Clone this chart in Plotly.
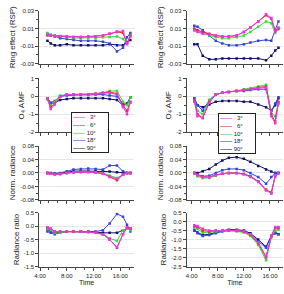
import plotly.graph_objects as go
from plotly.subplots import make_subplots

# ---------------- data ----------------
angles = ["3°", "6°", "10°", "18°", "90°"]
colors = ["#ee33ee", "#e52a2a", "#33dd33", "#3344dd", "#101070"]

time_left = [5.1, 5.6, 6.2, 7.0, 8.0, 9.0, 10.1, 11.2, 12.3, 13.4, 14.4, 15.5, 16.4, 17.0, 17.5]
time_right = [4.4, 4.9, 5.7, 6.7, 7.7, 8.7, 9.7, 10.9, 12.0, 13.0, 14.2, 15.4, 16.2, 16.8, 17.3]

# Ring effect (RSP)
ring_left = {
    "3°":  [0.003, 0.002, 0.0018, 0.0015, 0.0008, 0.0004, 0.0004, 0.0008, 0.001, 0.002, 0.004, 0.0065, 0.007, -0.008, 0.001],
    "6°":  [0.002, 0.0018, 0.0016, 0.0012, 0.0008, 0.0004, 0.0004, 0.0008, 0.001, 0.002, 0.004, 0.006, 0.005, -0.007, 0.002],
    "10°": [0.005, 0.003, 0.002, 0.001, 0.0, -0.0008, -0.0008, -0.0008, -0.0004, 0.0, 0.0004, 0.001, -0.002, -0.007, 0.002],
    "18°": [0.004, 0.0025, 0.001, -0.001, -0.002, -0.003, -0.004, -0.004, -0.004, -0.005, -0.007, -0.016, -0.012, 0.0, 0.005],
    "90°": [-0.004, -0.007, -0.009, -0.009, -0.008, -0.009, -0.009, -0.009, -0.009, -0.009, -0.008, -0.009, -0.009, -0.006, -0.003],
}
ring_right = {
    "3°":  [0.008, 0.006, 0.004, 0.003, 0.002, 0.001, 0.001, 0.002, 0.006, 0.011, 0.018, 0.026, 0.022, 0.006, 0.011],
    "6°":  [0.010, 0.008, 0.006, 0.004, 0.002, 0.001, 0.001, 0.002, 0.006, 0.011, 0.018, 0.025, 0.021, 0.008, 0.010],
    "10°": [0.008, 0.007, 0.005, 0.002, 0.0, -0.001, -0.001, 0.0, 0.002, 0.006, 0.012, 0.018, 0.016, 0.005, 0.009],
    "18°": [0.013, 0.012, 0.008, 0.002, -0.004, -0.007, -0.009, -0.009, -0.008, -0.006, -0.004, -0.003, -0.004, 0.008, 0.018],
    "90°": [-0.008, -0.008, -0.021, -0.025, -0.025, -0.024, -0.024, -0.024, -0.024, -0.024, -0.024, -0.026, -0.021, -0.015, -0.012],
}

# O4 AMF
amf_left = {
    "3°":  [-0.15, -0.7, -0.45, 0.0, 0.1, 0.1, 0.12, 0.12, 0.15, 0.18, 0.2, 0.1, -0.6, -1.0, -0.35],
    "6°":  [-0.15, -0.6, -0.4, 0.0, 0.1, 0.1, 0.12, 0.12, 0.15, 0.2, 0.25, 0.15, -0.5, -0.8, -0.3],
    "10°": [-0.1, -0.5, -0.3, 0.05, 0.1, 0.1, 0.12, 0.12, 0.15, 0.2, 0.3, 0.3, -0.3, -0.5, -0.05],
    "18°": [-0.1, -0.35, -0.25, 0.0, 0.05, 0.08, 0.08, 0.08, 0.1, 0.1, 0.05, 0.0, -0.4, -0.45, -0.05],
    "90°": [-0.1, -0.4, -0.35, -0.2, -0.15, -0.1, -0.1, -0.1, -0.1, -0.1, -0.15, -0.2, -0.5, -0.4, -0.05],
}
amf_right = {
    "3°":  [-0.3, -1.1, -1.2, -0.35, 0.1, 0.2, 0.25, 0.3, 0.35, 0.4, 0.45, 0.5, -1.1, -1.5, -0.4],
    "6°":  [-0.2, -1.0, -1.2, -0.3, 0.1, 0.2, 0.25, 0.3, 0.35, 0.4, 0.5, 0.55, -1.0, -1.4, -0.3],
    "10°": [-0.2, -0.8, -1.0, -0.2, 0.1, 0.2, 0.25, 0.3, 0.4, 0.45, 0.55, 0.65, -0.9, -1.1, -0.4],
    "18°": [-0.1, -0.5, -0.8, -0.2, 0.1, 0.2, 0.25, 0.3, 0.3, 0.35, 0.4, 0.4, -0.8, -0.4, -0.05],
    "90°": [-0.1, -0.5, -0.6, -0.45, -0.3, -0.25, -0.25, -0.25, -0.3, -0.3, -0.45, -0.6, -0.8, -0.5, -0.1],
}

# Normalised radiance
norm_left = {
    "3°":  [0.0, -0.002, -0.004, -0.003, 0.0, 0.002, 0.003, 0.003, 0.001, -0.002, -0.010, -0.018, -0.005, 0.0, 0.0],
    "6°":  [0.0, -0.002, -0.004, -0.003, 0.0, 0.002, 0.003, 0.003, 0.001, -0.002, -0.012, -0.022, -0.005, 0.0, 0.0],
    "10°": [0.0, -0.002, -0.004, -0.003, 0.0, 0.002, 0.003, 0.003, 0.002, 0.0, -0.008, -0.015, -0.005, 0.0, 0.0],
    "18°": [0.0, -0.002, -0.003, 0.0, 0.005, 0.010, 0.012, 0.013, 0.012, 0.010, 0.022, 0.022, 0.005, 0.0, 0.0],
    "90°": [0.0, 0.0, -0.002, -0.001, 0.002, 0.005, 0.006, 0.006, 0.006, 0.005, 0.004, 0.002, 0.0, 0.0, 0.0],
}
norm_right = {
    "3°":  [0.0, -0.006, -0.012, -0.012, -0.006, -0.002, -0.001, -0.001, -0.004, -0.012, -0.027, -0.052, -0.060, -0.008, 0.0],
    "6°":  [0.0, -0.006, -0.012, -0.012, -0.006, -0.002, 0.0, 0.0, -0.003, -0.010, -0.025, -0.050, -0.058, -0.010, 0.0],
    "10°": [0.0, -0.010, -0.015, -0.015, -0.008, -0.002, 0.0, 0.0, -0.003, -0.010, -0.025, -0.050, -0.062, -0.010, 0.0],
    "18°": [0.0, -0.005, -0.010, -0.008, 0.0, 0.008, 0.012, 0.012, 0.008, 0.0, -0.012, -0.032, -0.012, 0.0, 0.0],
    "90°": [0.0, 0.0, 0.005, 0.012, 0.025, 0.037, 0.045, 0.047, 0.042, 0.033, 0.021, 0.010, 0.004, 0.0, 0.0],
}

# Radiance ratio
ratio_left = {
    "3°":  [-0.05, -0.1, -0.2, -0.2, -0.2, -0.2, -0.2, -0.22, -0.25, -0.3, -0.5, -0.78, -0.3, -0.05, -0.1],
    "6°":  [-0.05, -0.1, -0.2, -0.2, -0.2, -0.2, -0.2, -0.22, -0.25, -0.3, -0.5, -0.8, -0.3, -0.05, -0.1],
    "10°": [-0.1, -0.15, -0.25, -0.25, -0.2, -0.2, -0.2, -0.22, -0.25, -0.3, -0.45, -0.55, -0.15, -0.1, -0.15],
    "18°": [-0.2, -0.25, -0.3, -0.25, -0.2, -0.2, -0.2, -0.2, -0.2, -0.15, 0.1, 0.45, 0.35, 0.05, -0.2],
    "90°": [-0.12, -0.2, -0.25, -0.22, -0.2, -0.2, -0.2, -0.2, -0.22, -0.25, -0.25, -0.25, -0.15, -0.1, -0.1],
}
ratio_right = {
    "3°":  [-0.2, -0.25, -0.4, -0.5, -0.5, -0.5, -0.5, -0.5, -0.55, -0.7, -1.15, -1.95, -0.8, -0.3, -0.3],
    "6°":  [-0.25, -0.3, -0.5, -0.55, -0.5, -0.5, -0.5, -0.5, -0.55, -0.75, -1.2, -2.0, -0.8, -0.35, -0.35],
    "10°": [-0.3, -0.4, -0.6, -0.6, -0.55, -0.5, -0.5, -0.55, -0.6, -0.8, -1.3, -2.15, -0.9, -0.5, -0.45],
    "18°": [-0.45, -0.65, -0.8, -0.75, -0.65, -0.55, -0.5, -0.5, -0.55, -0.7, -1.1, -1.45, -0.8, -0.6, -0.7],
    "90°": [-0.5, -0.6, -0.75, -0.7, -0.6, -0.5, -0.45, -0.45, -0.5, -0.65, -1.0, -1.4, -0.8, -0.65, -0.7],
}

row_titles = ["Ring effect (RSP)", "O₄ AMF", "Norm. radiance", "Radiance ratio"]
time_tickvals = [4, 8, 12, 16]
time_ticktext = ["4:00", "8:00", "12:00", "16:00"]

# ---------------- figure ----------------
FONT = "Liberation Sans, Arial, sans-serif"
W, H = 284, 294
fig = make_subplots(rows=4, cols=2)

panels = [
    (ring_left, ring_right),
    (amf_left, amf_right),
    (norm_left, norm_right),
    (ratio_left, ratio_right),
]

for r, (dl, dr) in enumerate(panels, start=1):
    for c, (d, t) in enumerate([(dl, time_left), (dr, time_right)], start=1):
        for name, col in reversed(list(zip(angles, colors))):
            fig.add_trace(
                go.Scatter(
                    x=t, y=d[name], mode="lines+markers", name=name,
                    line=dict(color=col, width=1),
                    marker=dict(color=col, size=2.5, symbol="square"),
                    showlegend=False,
                ),
                row=r, col=c,
            )

# domains (pixel-based)
x_dom = [(35, 131), (185, 283)]
x_rng = [(3.9, 18.0), (3.25, 18.0)]
y_pix = [(8, 62), (77, 132), (146, 201), (214, 269)]

y_specs = {
    (1, 1): dict(range=[-0.03, 0.03], tickvals=[0.03, 0.01, -0.01, -0.03], ticktext=["0.03", "0.01", "-0.01", "-0.03"], minor=0.01),
    (1, 2): dict(range=[-0.03, 0.03], tickvals=[0.03, 0.01, -0.01, -0.03], ticktext=["0.03", "0.01", "-0.01", "-0.03"], minor=0.01),
    (2, 1): dict(range=[-2, 1], tickvals=[1, 0, -1, -2], ticktext=["1", "0", "-1", "-2"], minor=0.5),
    (2, 2): dict(range=[-2, 1], tickvals=[1, 0, -1, -2], ticktext=["1", "0", "-1", "-2"], minor=0.5),
    (3, 1): dict(range=[-0.08, 0.08], tickvals=[0.08, 0.04, 0, -0.04, -0.08], ticktext=["0.08", "0.04", "0.00", "-0.04", "-0.08"], minor=0.02),
    (3, 2): dict(range=[-0.08, 0.08], tickvals=[0.08, 0.04, 0, -0.04, -0.08], ticktext=["0.08", "0.04", "0.00", "-0.04", "-0.08"], minor=0.02),
    (4, 1): dict(range=[-1.5, 0.5], tickvals=[0.5, 0, -0.5, -1, -1.5], ticktext=["0.5", "0.0", "-0.5", "-1.0", "-1.5"], minor=None),
    (4, 2): dict(range=[-2.5, 0.5], tickvals=[0.5, 0, -0.5, -1, -1.5, -2, -2.5], ticktext=["0.5", "0.0", "-0.5", "-1.0", "-1.5", "-2.0", "-2.5"], minor=None),
}

axis_common = dict(
    showline=True, linecolor="#444", linewidth=1, ticks="outside", ticklen=3,
    tickcolor="#444", tickwidth=1, zeroline=False,
    tickfont=dict(family=FONT, size=6, color="#222"),
)

for r in range(1, 5):
    for c in range(1, 3):
        y0, y1 = y_pix[r - 1]
        xd = x_dom[c - 1]
        xax = dict(
            domain=[xd[0] / W, xd[1] / W], range=list(x_rng[c - 1]),
            tickvals=time_tickvals, showgrid=False,
            minor=dict(dtick=4 / 3, tick0=4, ticks="outside", ticklen=2, tickcolor="#444"),
        )
        if r == 4:
            xax["ticktext"] = time_ticktext
            xax["showticklabels"] = True
            xax["title"] = dict(text="Time", font=dict(family=FONT, size=7, color="#222"), standoff=1)
        else:
            xax["showticklabels"] = False
        fig.update_xaxes(row=r, col=c, **xax, **axis_common)

        s = y_specs[(r, c)]
        yax = dict(
            domain=[1 - y1 / H, 1 - y0 / H], range=s["range"],
            tickvals=s["tickvals"], ticktext=s["ticktext"],
            showgrid=True, gridcolor="#e6e6e6", gridwidth=1,
            title=dict(text=row_titles[r - 1], font=dict(family=FONT, size=8, color="#222"), standoff=3),
        )
        if s["minor"]:
            yax["minor"] = dict(dtick=s["minor"], tick0=0, ticks="outside", ticklen=2, tickcolor="#444", showgrid=False)
        fig.update_yaxes(row=r, col=c, **yax, **axis_common)

# legend boxes (text-based)
def legend_text():
    lines = []
    for name, col in zip(angles, colors):
        pad = "&nbsp;&nbsp;&nbsp;" if len(name) == 2 else "&nbsp;"
        lines.append(f"<span style='color:{col}'><b>——</b></span>{pad}{name}")
    return "<br>".join(lines)

for cx, cy in [(86.5, 132.5), (236.5, 133)]:
    fig.add_annotation(
        x=cx / W, y=1 - cy / H, xref="paper", yref="paper",
        xanchor="center", yanchor="middle", showarrow=False,
        text=legend_text(), align="left",
        font=dict(family=FONT, size=6, color="#222"),
        bgcolor="white", bordercolor="#222", borderwidth=1, borderpad=1,
        width=34,
    )

fig.update_layout(
    width=W, height=H, margin=dict(l=0, r=0, t=0, b=0),
    paper_bgcolor="white", plot_bgcolor="white",
    font=dict(family=FONT, size=6, color="#222"),
    showlegend=False,
)

fig.write_html("out.html")
